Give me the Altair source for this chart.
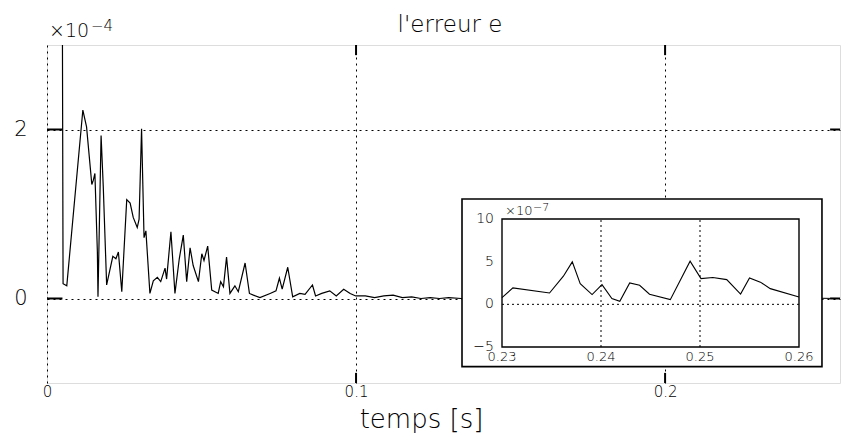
import altair as alt
import pandas as pd

# ---- main trace: error e (units of 1e-4) vs time [s]
t_main = [0.0050, 0.0052, 0.0064, 0.0116, 0.0128, 0.0145, 0.0150, 0.0155, 0.0163,
          0.0165, 0.0175, 0.0182, 0.0193, 0.0213, 0.0223, 0.0231, 0.0242, 0.0258, 0.0269,
          0.0279, 0.0292, 0.0298, 0.0306, 0.0314, 0.0320, 0.0333, 0.0344, 0.0357, 0.0368,
          0.0382, 0.0387, 0.0401, 0.0414, 0.0428, 0.0441, 0.0452, 0.0463, 0.0473, 0.0490,
          0.0501, 0.0508, 0.0520, 0.0533, 0.0554, 0.0562, 0.0571, 0.0581, 0.0592, 0.0608,
          0.0619, 0.0641, 0.0655, 0.0668, 0.0689, 0.0722, 0.0741, 0.0752, 0.0761, 0.0779,
          0.0795, 0.0818, 0.0835, 0.0859, 0.0869, 0.0889, 0.0915, 0.0936, 0.0960, 0.0981,
          0.0999, 0.103, 0.106, 0.109, 0.112, 0.115, 0.118, 0.121, 0.124, 0.127,
          0.130, 0.134, 0.14, 0.16, 0.18, 0.20, 0.22, 0.24, 0.25, 0.2566]
e_main = [3.0, 0.175, 0.15, 2.23, 2.03, 1.35, 1.40, 1.48, 0.55,
          0.02, 1.93, 1.33, 0.16, 0.50, 0.47, 0.55, 0.08, 1.17, 1.13,
          0.96, 0.84, 0.94, 2.01, 0.72, 0.80, 0.06, 0.21, 0.25, 0.20,
          0.36, 0.23, 0.79, 0.06, 0.47, 0.75, 0.20, 0.60, 0.39, 0.20,
          0.53, 0.45, 0.62, 0.10, 0.06, 0.20, 0.14, 0.49, 0.06, 0.15,
          0.08, 0.42, 0.06, 0.04, 0.01, 0.06, 0.09, 0.24, 0.11, 0.37,
          0.02, 0.06, 0.05, 0.16, 0.03, 0.06, 0.09, 0.03, 0.11, 0.06,
          0.03, 0.03, 0.01, 0.03, 0.04, 0.01, 0.02, 0.0, 0.01, 0.0,
          0.01, 0.0, 0.005, 0.0, 0.005, 0.0, 0.005, 0.0, 0.003, 0.0]

# ---- inset trace: zoom on 0.23..0.26 s (units of 1e-7)
t_inset = [0.2300, 0.2311, 0.2348, 0.2362, 0.2371, 0.2379, 0.2391, 0.2401, 0.2411, 0.2419,
           0.2429, 0.2439, 0.2449, 0.2470, 0.2490, 0.2501, 0.2513, 0.2527, 0.2541, 0.2550,
           0.2561, 0.2571, 0.2600]
e_inset = [0.79, 1.92, 1.33, 3.3, 4.98, 2.43, 1.14, 2.31, 0.67, 0.35,
           2.5, 2.24, 1.18, 0.55, 5.06, 3.02, 3.14, 2.9, 1.21, 3.1,
           2.6, 1.84, 0.86]

main_x_ticks = [0, 0.1, 0.2]
main_y_ticks = [0, 2]
inset_x_ticks = [0.23, 0.24, 0.25, 0.26]
inset_x_labels = ["0.23", "0.24", "0.25", "0.26"]
inset_y_ticks = [10, 5, 0, -5]
inset_y_labels = ["10", "5", "0", "−5"]
inset_x_grid = [0.24, 0.25]

TITLE = "l'erreur e"
XTITLE = "temps [s]"

FONT = "DejaVu Sans"
W, H = 793, 338
XDOM = [0, 0.2566]
YDOM = [-1, 3]

xs = alt.Scale(domain=XDOM, nice=False, zero=False)
ys = alt.Scale(domain=YDOM, nice=False, zero=False)

main_df = pd.DataFrame({"t": t_main, "e": e_main})

xaxis = alt.Axis(values=main_x_ticks, grid=True, gridDash=[2, 4], gridColor="black",
                 gridOpacity=1, gridWidth=1, ticks=False, domain=False, format=".1~f",
                 labelFont=FONT, labelFontSize=15, labelFontWeight=200, labelColor="black",
                 labelPadding=1, labelFlush=False,
                 title=XTITLE, titleFont=FONT, titleFontSize=26, titleFontWeight=200,
                 titleColor="black", titleX=374, titleY=44, titleBaseline="alphabetic")
yaxis = alt.Axis(values=main_y_ticks, grid=True, gridDash=[2, 4], gridColor="black",
                 gridOpacity=1, gridWidth=1, ticks=False, domain=False, format="d",
                 labelFont=FONT, labelFontSize=21, labelFontWeight=200, labelColor="black",
                 labelPadding=20, title=None)

line = alt.Chart(main_df).mark_line(color="black", strokeWidth=1.2, clip=True).encode(
    x=alt.X("t:Q", scale=xs, axis=xaxis),
    y=alt.Y("e:Q", scale=ys, axis=yaxis),
)

# inward ticks (box style)
lt = pd.DataFrame({"y": main_y_ticks, "x0": [0.0] * 2, "x1": [0.005] * 2})
rt = pd.DataFrame({"y": main_y_ticks, "x0": [0.2534] * 2, "x1": [0.2566] * 2})
bt = pd.DataFrame({"x": main_x_ticks[1:], "y0": [-1.0] * 2, "y1": [-0.88] * 2})
tt = pd.DataFrame({"x": main_x_ticks[1:], "y0": [2.88] * 2, "y1": [3.0] * 2})
tick_l = alt.Chart(lt).mark_rule(color="black", strokeWidth=2).encode(
    x=alt.X("x0:Q", scale=xs), x2="x1:Q", y=alt.Y("y:Q", scale=ys))
tick_r = alt.Chart(rt).mark_rule(color="black", strokeWidth=2).encode(
    x=alt.X("x0:Q", scale=xs), x2="x1:Q", y=alt.Y("y:Q", scale=ys))
tick_b = alt.Chart(bt).mark_rule(color="black", strokeWidth=2).encode(
    x=alt.X("x:Q", scale=xs), y=alt.Y("y0:Q", scale=ys), y2="y1:Q")
tick_t = alt.Chart(tt).mark_rule(color="black", strokeWidth=2).encode(
    x=alt.X("x:Q", scale=xs), y=alt.Y("y0:Q", scale=ys), y2="y1:Q")

exp_df = pd.DataFrame({"x": [0.0], "y": [3.0]})
exp_base = alt.Chart(exp_df).mark_text(text="×10", font=FONT, fontSize=19, fontWeight=200,
                                       align="left", baseline="alphabetic", dx=2, dy=-8,
                                       color="black").encode(
    x=alt.X("x:Q", scale=xs), y=alt.Y("y:Q", scale=ys))
exp_pow = alt.Chart(exp_df).mark_text(text="−4", font=FONT, fontSize=15, fontWeight=200,
                                      align="left", baseline="alphabetic", dx=44, dy=-14,
                                      color="black").encode(
    x=alt.X("x:Q", scale=xs), y=alt.Y("y:Q", scale=ys))

title = alt.Chart(exp_df).mark_text(text=TITLE, font=FONT, fontSize=23, fontWeight=200,
                                    align="center", baseline="alphabetic",
                                    color="black").encode(
    x=alt.value(403), y=alt.value(-13))

main = alt.layer(line, tick_l, tick_r, tick_b, tick_t, exp_base, exp_pow, title)

# ---- inset, drawn with its own scales placed inside the plot area
ixs = alt.Scale(domain=[0.23, 0.26], range=[455, 752], nice=False, zero=False)
iys = alt.Scale(domain=[-5, 10], range=[302, 174], nice=False, zero=False)

box_df = pd.DataFrame({"x0": [0.22596], "x1": [0.26232], "y0": [-7.3], "y1": [12.35]})
box = alt.Chart(box_df).mark_rect(fill="white", stroke="black", strokeWidth=1.6).encode(
    x=alt.X("x0:Q", scale=ixs, axis=None), x2="x1:Q",
    y=alt.Y("y0:Q", scale=iys, axis=None), y2="y1:Q")

frame_df = pd.DataFrame({"x0": [0.23], "x1": [0.26], "y0": [-5.0], "y1": [10.0]})
frame = alt.Chart(frame_df).mark_rect(fill=None, stroke="black", strokeWidth=1.4).encode(
    x=alt.X("x0:Q", scale=ixs, axis=None), x2="x1:Q",
    y=alt.Y("y0:Q", scale=iys, axis=None), y2="y1:Q")

igx_df = pd.DataFrame({"x": inset_x_grid, "y0": [-5.0] * 2, "y1": [10.0] * 2})
igx = alt.Chart(igx_df).mark_rule(color="black", strokeWidth=1, strokeDash=[2, 3]).encode(
    x=alt.X("x:Q", scale=ixs, axis=None),
    y=alt.Y("y0:Q", scale=iys, axis=None), y2="y1:Q")
igy_df = pd.DataFrame({"y": [0.0], "x0": [0.23], "x1": [0.26]})
igy = alt.Chart(igy_df).mark_rule(color="black", strokeWidth=1, strokeDash=[2, 3]).encode(
    x=alt.X("x0:Q", scale=ixs, axis=None), x2="x1:Q",
    y=alt.Y("y:Q", scale=iys, axis=None))

inset_df = pd.DataFrame({"t": t_inset, "e": e_inset})
iline = alt.Chart(inset_df).mark_line(color="black", strokeWidth=1.1).encode(
    x=alt.X("t:Q", scale=ixs, axis=None),
    y=alt.Y("e:Q", scale=iys, axis=None))

ixl_df = pd.DataFrame({"x": inset_x_ticks, "y": [-5.0] * 4, "lab": inset_x_labels})
ixl = alt.Chart(ixl_df).mark_text(font=FONT, fontSize=13, fontWeight=200, color="black",
                                  baseline="middle", align="center", dy=10).encode(
    x=alt.X("x:Q", scale=ixs, axis=None),
    y=alt.Y("y:Q", scale=iys, axis=None), text="lab:N")
iyl_df = pd.DataFrame({"y": inset_y_ticks, "x": [0.23] * 4, "lab": inset_y_labels})
iyl = alt.Chart(iyl_df).mark_text(font=FONT, fontSize=14, fontWeight=200, color="black",
                                  baseline="middle", align="right", dx=-8).encode(
    x=alt.X("x:Q", scale=ixs, axis=None),
    y=alt.Y("y:Q", scale=iys, axis=None), text="lab:N")

iexp_df = pd.DataFrame({"x": [0.23], "y": [10.0]})
iexp_base = alt.Chart(iexp_df).mark_text(text="×10", font=FONT, fontSize=13, fontWeight=200,
                                         align="left", baseline="alphabetic", dx=3, dy=-4,
                                         color="black").encode(
    x=alt.X("x:Q", scale=ixs, axis=None), y=alt.Y("y:Q", scale=iys, axis=None))
iexp_pow = alt.Chart(iexp_df).mark_text(text="−7", font=FONT, fontSize=11, fontWeight=200,
                                        align="left", baseline="alphabetic", dx=31, dy=-8,
                                        color="black").encode(
    x=alt.X("x:Q", scale=ixs, axis=None), y=alt.Y("y:Q", scale=iys, axis=None))

inset = alt.layer(box, frame, igx, igy, iline, ixl, iyl, iexp_base, iexp_pow)

chart = alt.layer(main, inset).resolve_scale(x="independent", y="independent").properties(
    width=W, height=H,
    autosize=alt.AutoSizeParams(type="none"),
    padding={"left": 47, "top": 45, "right": 1, "bottom": 53},
).configure_view(stroke="black", strokeWidth=2).configure(background="white")

chart.save("out.html", embed_options={"renderer": "svg", "actions": False})
